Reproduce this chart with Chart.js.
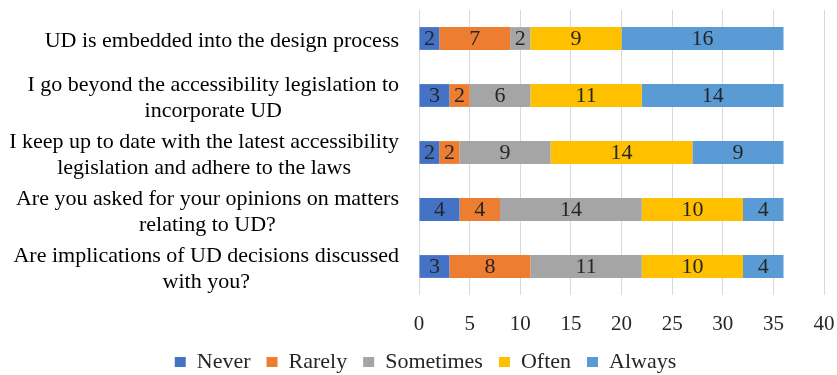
<!DOCTYPE html>
<html>
<head>
<meta charset="utf-8">
<script src="https://cdn.jsdelivr.net/npm/chart.js@4.4.1/dist/chart.umd.min.js"></script>
<style>
  html, body { margin: 0; padding: 0; background: #ffffff; }
  #wrap { width: 837px; height: 375px; position: relative; }
</style>
</head>
<body>
<div id="wrap"><canvas id="udChart"></canvas></div>
<script>
// Survey statements (y axis), each split into its printed lines
const categories = [
    ['UD is embedded into the design process'],
    ['I go beyond the accessibility legislation to', 'incorporate UD'],
    ['I keep up to date with the latest accessibility', 'legislation and adhere to the laws'],
    ['Are you asked for your opinions on matters', 'relating to UD?'],
    ['Are implications of UD decisions discussed', 'with you?']
];

const never     = [2, 3, 2, 4, 3];
const rarely    = [7, 2, 2, 4, 8];
const sometimes = [2, 6, 9, 14, 11];
const often     = [9, 11, 14, 10, 10];
const always    = [16, 14, 9, 4, 4];

const xTicks = [0, 5, 10, 15, 20, 25, 30, 35, 40];

const serif = '"Liberation Serif", "Times New Roman", serif';

document.addEventListener('DOMContentLoaded', () => {
    const ctx = document.getElementById('udChart').getContext('2d');

    // compact legend, nudged up a bit so the plot keeps its height
    const legendFitPlugin = {
        id: 'legendFit',
        beforeInit: (chart) => {
            const origFit = chart.legend.fit;
            chart.legend.fit = function () {
                origFit.bind(chart.legend)();
                this.height = 36;
            };
        },
        beforeDraw: (chart) => {
            const lg = chart.legend;
            if (!lg._shifted) {
                lg.top -= 4;
                lg._shifted = true;
            }
        },
        afterLayout: (chart) => {
            chart.legend._shifted = false;
        }
    };

    // statement labels: block right-aligned, lines centred inside the block
    const yLabelPlugin = {
        id: 'yLabels',
        afterDraw: (chart) => {
            const {ctx, chartArea, scales: {y}} = chart;
            const right = chartArea.left - 20;
            const lineHeight = 26;
            ctx.save();
            ctx.font = '22px ' + serif;
            ctx.fillStyle = '#000000';
            ctx.textAlign = 'center';
            ctx.textBaseline = 'middle';
            categories.forEach((lines, i) => {
                const yc = y.getPixelForValue(i) + 3;
                const widest = Math.max(...lines.map(l => ctx.measureText(l).width));
                const cx = right - widest / 2;
                lines.forEach((line, k) => {
                    ctx.fillText(line, cx, yc + (k - (lines.length - 1) / 2) * lineHeight);
                });
            });
            ctx.restore();
        }
    };

    // value written in the middle of every segment
    const valueLabelPlugin = {
        id: 'valueLabels',
        afterDatasetsDraw: (chart) => {
            const {ctx} = chart;
            ctx.save();
            ctx.font = '22px ' + serif;
            ctx.fillStyle = '#262626';
            ctx.textAlign = 'center';
            ctx.textBaseline = 'middle';
            chart.data.datasets.forEach((ds, i) => {
                const meta = chart.getDatasetMeta(i);
                meta.data.forEach((bar, j) => {
                    ctx.fillText(String(ds.data[j]), (bar.x + bar.base) / 2, bar.y + 1);
                });
            });
            ctx.restore();
        }
    };

    const makeSet = (label, data, color) => ({
        label: label,
        data: data,
        backgroundColor: color,
        borderWidth: 0,
        categoryPercentage: 1,
        barPercentage: 0.4
    });

    new Chart(ctx, {
        type: 'bar',
        plugins: [legendFitPlugin, yLabelPlugin, valueLabelPlugin],
        data: {
            labels: categories.map(c => c.join(' ')),
            datasets: [
                makeSet('Never', never, '#4472C4'),
                makeSet('Rarely', rarely, '#ED7D31'),
                makeSet('Sometimes', sometimes, '#A5A5A5'),
                makeSet('Often', often, '#FFC000'),
                makeSet('Always', always, '#5B9BD5')
            ]
        },
        options: {
            indexAxis: 'y',
            responsive: true,
            maintainAspectRatio: false,
            animation: false,
            layout: {
                padding: { left: 14, right: 0, top: 10, bottom: 0 }
            },
            plugins: {
                legend: {
                    position: 'bottom',
                    labels: {
                        font: { family: serif, size: 22 },
                        color: '#262626',
                        boxWidth: 11,
                        boxHeight: 10,
                        padding: 16
                    }
                },
                tooltip: { enabled: false }
            },
            scales: {
                x: {
                    stacked: true,
                    min: 0,
                    max: 40,
                    afterBuildTicks: (scale) => {
                        scale.ticks = xTicks.map(v => ({ value: v }));
                    },
                    afterFit: (scale) => {
                        scale.paddingRight = 13;
                        scale.height = 44;
                    },
                    grid: {
                        color: '#d9d9d9',
                        lineWidth: 1,
                        drawTicks: false
                    },
                    border: { display: false },
                    ticks: {
                        font: { family: serif, size: 21 },
                        color: '#262626',
                        padding: 17,
                        maxRotation: 0
                    }
                },
                y: {
                    stacked: true,
                    afterFit: (scale) => {
                        scale.width = 405;
                    },
                    grid: { display: false },
                    border: { display: false },
                    ticks: { display: false }
                }
            }
        }
    });
});
</script>
</body>
</html>
